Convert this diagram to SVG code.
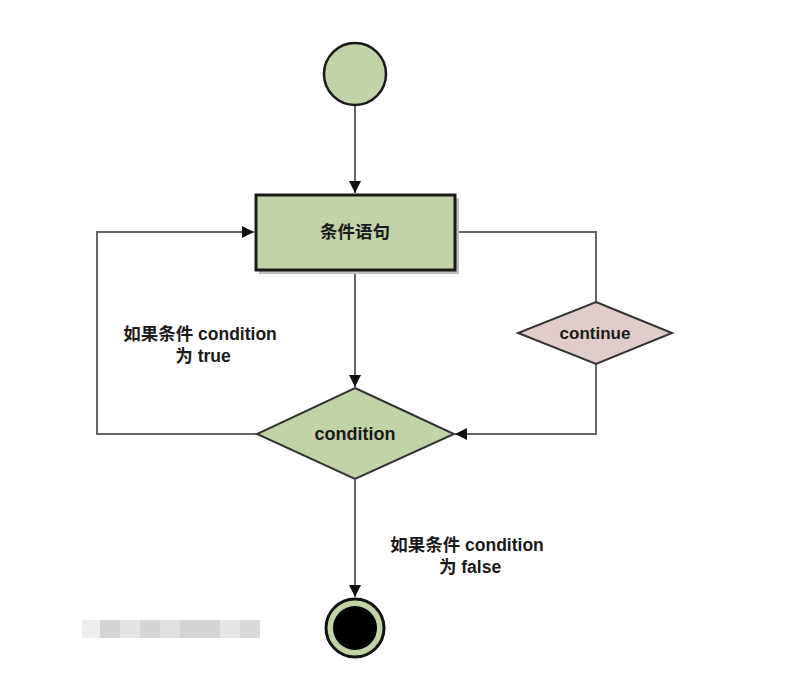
<svg xmlns="http://www.w3.org/2000/svg" width="801" height="695" viewBox="0 0 801 695">
<defs>
<marker id="arr" viewBox="0 0 10 10" refX="10" refY="5" markerWidth="12" markerHeight="12" markerUnits="userSpaceOnUse" orient="auto">
<path d="M0,0 L10,5 L0,10 Z" fill="#111"/>
</marker>
</defs>
<style>
.ln{fill:none;stroke:#666;stroke-width:2}
.t{font-family:"Liberation Sans","Noto Sans CJK SC",sans-serif;font-weight:bold;fill:#1a1a1a;text-anchor:middle}
.g{fill:#c3d3a9}
</style>
<rect width="801" height="695" fill="#fff"/>
<g id="watermark">
<rect x="82" y="620" width="20" height="18" fill="#eeeeee"/>
<rect x="100" y="620" width="20" height="18" fill="#d4d4d4"/>
<rect x="120" y="620" width="20" height="18" fill="#e4e4e4"/>
<rect x="140" y="620" width="20" height="18" fill="#d6d6d6"/>
<rect x="160" y="620" width="20" height="18" fill="#e0e0e0"/>
<rect x="180" y="620" width="40" height="18" fill="#d4d4d4"/>
<rect x="220" y="620" width="20" height="18" fill="#e6e6e6"/>
<rect x="240" y="620" width="20" height="18" fill="#dadada"/>
</g>
<g id="connectors">
<line class="ln" x1="355" y1="105" x2="355" y2="193" marker-end="url(#arr)"/>
<line class="ln" x1="355" y1="272" x2="355" y2="387" marker-end="url(#arr)"/>
<polyline class="ln" points="257,434 97,434 97,232 254,232" marker-end="url(#arr)"/>
<polyline class="ln" points="457,232 596,232 596,302"/>
<polyline class="ln" points="596,364 596,434 455,434" marker-end="url(#arr)"/>
<line class="ln" x1="355" y1="480" x2="355" y2="597" marker-end="url(#arr)"/>
</g>
<g id="start">
<circle cx="355" cy="74" r="31" class="g" stroke="#1a1a1a" stroke-width="2.5"/>
</g>
<g id="stmt">
<rect x="259" y="198" width="200" height="76" fill="#bdbdbd"/>
<rect x="256" y="195" width="199" height="75" class="g" stroke="#1a1a1a" stroke-width="3"/>
<text class="t" x="355" y="238" font-size="17.5">条件语句</text>
</g>
<g id="cont">
<polygon points="596,302 672,333 596,364 518,333" fill="#e0cdcb" stroke="#333" stroke-width="2"/>
<text class="t" x="595" y="339" font-size="17">continue</text>
</g>
<g id="cond">
<polygon points="355,388 454,434 355,479 257,434" class="g" stroke="#333" stroke-width="2"/>
<text class="t" x="355" y="440" font-size="18">condition</text>
</g>
<g id="end">
<circle cx="355" cy="628" r="29" fill="#c3d3a9" stroke="#111" stroke-width="3"/>
<circle cx="355" cy="628" r="22" fill="#000"/>
</g>
<g id="labels">
<text class="t" x="200" y="340" font-size="17.5">如果条件 condition</text>
<text class="t" x="203" y="362" font-size="17.5">为 true</text>
<text class="t" x="467" y="551" font-size="17.5">如果条件 condition</text>
<text class="t" x="470" y="573" font-size="17.5">为 false</text>
</g>
</svg>
